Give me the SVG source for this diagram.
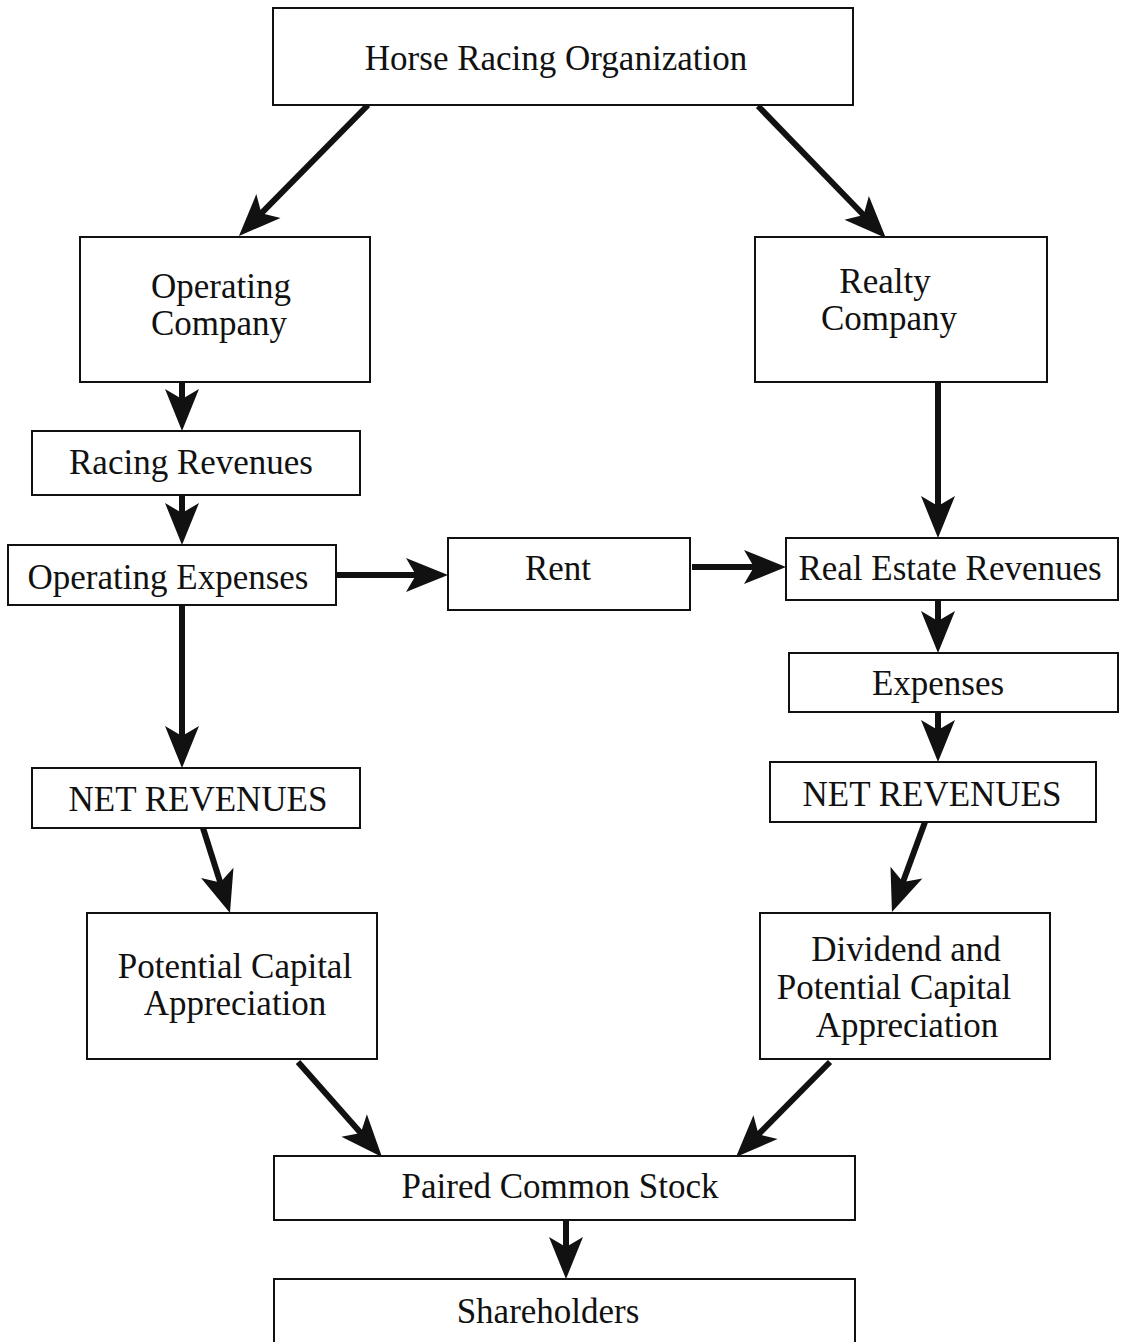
<svg xmlns="http://www.w3.org/2000/svg" width="1128" height="1342" viewBox="0 0 1128 1342">
  <style>
    .box { fill: #fff; stroke: #111; stroke-width: 2; }
    .lbl { font-family: "Liberation Serif", "Times New Roman", serif; font-size: 35px; fill: #111; text-anchor: middle; }
    .arr { stroke: #111; stroke-width: 6; fill: none; marker-end: url(#head); }
  </style>
  <defs>
    <!-- barbed head: the path end sits 30px behind the tip -->
    <marker id="head" markerUnits="userSpaceOnUse" markerWidth="60" markerHeight="40" refX="0" refY="0" orient="auto" overflow="visible">
      <path d="M30,0 L-12,-17 L-2,0 L-12,17 Z" fill="#111"/>
    </marker>
  </defs>
  <rect width="1128" height="1342" fill="#fff"/>

  <g id="connectors">
    <line class="arr" x1="368" y1="105" x2="260" y2="214.6"/>
    <line class="arr" x1="758" y1="106" x2="865" y2="216.5"/>
    <line class="arr" x1="182" y1="382" x2="182" y2="401"/>
    <line class="arr" x1="182" y1="495" x2="182" y2="515"/>
    <line class="arr" x1="182" y1="605" x2="182" y2="738"/>
    <line class="arr" x1="336" y1="575" x2="418" y2="575"/>
    <line class="arr" x1="692" y1="567" x2="756" y2="567"/>
    <line class="arr" x1="938" y1="382" x2="938" y2="508"/>
    <line class="arr" x1="938" y1="600" x2="938" y2="623"/>
    <line class="arr" x1="938" y1="712" x2="938" y2="732"/>
    <line class="arr" x1="203" y1="828" x2="220.9" y2="884.4"/>
    <line class="arr" x1="925" y1="822" x2="902.3" y2="883.8"/>
    <line class="arr" x1="298" y1="1062" x2="362.1" y2="1134.5"/>
    <line class="arr" x1="830" y1="1062" x2="757.1" y2="1135.7"/>
    <line class="arr" x1="566" y1="1220" x2="566" y2="1249"/>
  </g>

  <g id="horse-racing-organization">
    <rect class="box" x="273" y="8" width="580" height="97"/>
    <text class="lbl" x="556" y="70">Horse Racing Organization</text>
  </g>
  <g id="operating-company">
    <rect class="box" x="80" y="237" width="290" height="145"/>
    <text class="lbl" x="221" y="298">Operating</text>
    <text class="lbl" x="219" y="335">Company</text>
  </g>
  <g id="realty-company">
    <rect class="box" x="755" y="237" width="292" height="145"/>
    <text class="lbl" x="885" y="293">Realty</text>
    <text class="lbl" x="889" y="330">Company</text>
  </g>
  <g id="racing-revenues">
    <rect class="box" x="32" y="431" width="328" height="64"/>
    <text class="lbl" x="191" y="474">Racing Revenues</text>
  </g>
  <g id="operating-expenses">
    <rect class="box" x="8" y="545" width="328" height="60"/>
    <text class="lbl" x="168" y="589">Operating Expenses</text>
  </g>
  <g id="rent">
    <rect class="box" x="448" y="538" width="242" height="72"/>
    <text class="lbl" x="558" y="580">Rent</text>
  </g>
  <g id="real-estate-revenues">
    <rect class="box" x="786" y="538" width="332" height="62"/>
    <text class="lbl" x="950" y="580">Real Estate Revenues</text>
  </g>
  <g id="expenses">
    <rect class="box" x="789" y="653" width="329" height="59"/>
    <text class="lbl" x="938" y="695">Expenses</text>
  </g>
  <g id="net-revenues-left">
    <rect class="box" x="32" y="768" width="328" height="60"/>
    <text class="lbl" x="198" y="811">NET REVENUES</text>
  </g>
  <g id="net-revenues-right">
    <rect class="box" x="770" y="762" width="326" height="60"/>
    <text class="lbl" x="932" y="806">NET REVENUES</text>
  </g>
  <g id="potential-capital-appreciation">
    <rect class="box" x="87" y="913" width="290" height="146"/>
    <text class="lbl" x="235" y="978">Potential Capital</text>
    <text class="lbl" x="235" y="1015">Appreciation</text>
  </g>
  <g id="dividend-appreciation">
    <rect class="box" x="760" y="913" width="290" height="146"/>
    <text class="lbl" x="906" y="961">Dividend and</text>
    <text class="lbl" x="894" y="999">Potential Capital</text>
    <text class="lbl" x="907" y="1037">Appreciation</text>
  </g>
  <g id="paired-common-stock">
    <rect class="box" x="274" y="1156" width="581" height="64"/>
    <text class="lbl" x="560" y="1198">Paired Common Stock</text>
  </g>
  <g id="shareholders">
    <rect class="box" x="274" y="1279" width="581" height="80"/>
    <text class="lbl" x="548" y="1323">Shareholders</text>
  </g>
</svg>
